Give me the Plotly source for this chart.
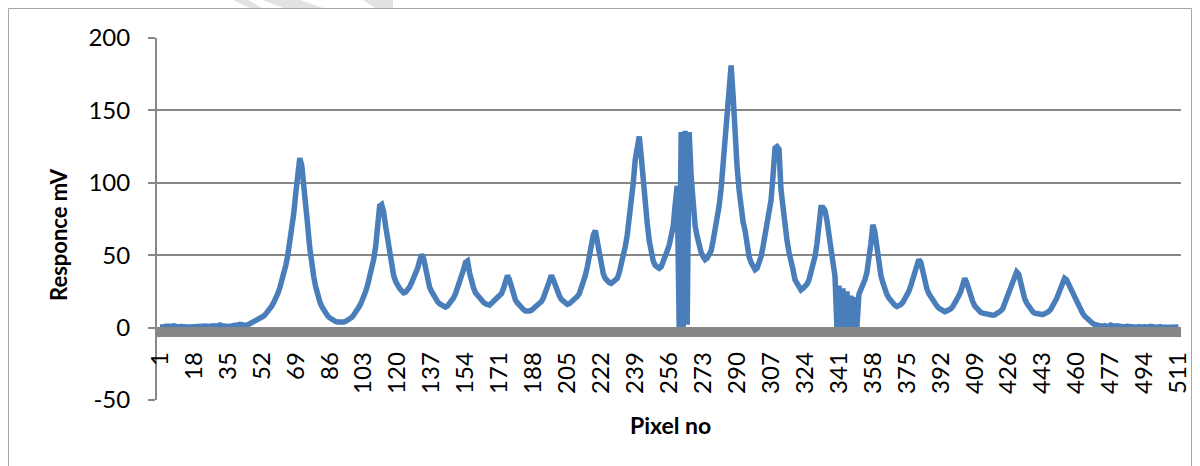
import plotly.graph_objects as go

# ---- data ----
pixel_no = list(range(1, 512))

response = (
    [0.5, 0.3, 0.6, 1.0, 0.8, 0.4, 0.9, 1.2, 0.7, 0.5, 0.8, 1.1, 0.6, 0.4, 0.7, 0.9, 0.5]          # 1-17
    + [0.6, 0.8, 1.0, 0.7, 0.9, 1.3, 1.1, 0.8, 1.2, 1.6, 1.3, 0.9, 1.5, 1.8, 1.2, 0.7, 1.0]        # 18-34
    + [0.8, 0.6, 1.1, 1.5, 1.2, 1.8, 2.2, 1.6, 1.0, 1.4, 2.0, 2.8, 3.2, 3.8, 4.6, 5.2, 6.0]        # 35-51
    + [6.8, 8.0, 9.5, 11.0, 13.0, 15.0, 17.5, 20.0, 23.5, 27.5, 32.0, 37.5, 43.0, 50.0, 58.0, 67.0, 79.0]  # 52-68
    + [93, 108, 117, 112, 100, 86, 70, 55, 43, 35, 28, 22, 18, 14.5, 12, 9.8, 8.0]               # 69-85
    + [6.8, 5.6, 4.8, 4.2, 3.8, 3.5, 3.6, 3.8, 4.3, 5.0, 5.8, 7.0, 8.7, 10.5, 12.5, 15.0, 18.0]   # 86-102
    + [21, 25, 29.5, 34.5, 40.5, 47, 56, 70, 84, 85, 80, 70, 62, 50, 42, 36, 32]                  # 103-119
    + [28.5, 27, 25.5, 24, 24.5, 26, 28, 31, 34, 37.5, 41, 46, 50.5, 48, 40, 33, 28]              # 120-136
    + [25, 22, 19.5, 18, 16.5, 15.5, 14.8, 14.2, 15, 16.5, 18, 20.5, 23.5, 27, 31, 35.5, 40]      # 137-153
    + [45, 46, 38, 31, 27.5, 24, 22, 20, 18.5, 17.5, 16.5, 16, 15.5, 16.8, 18, 19.5, 20]          # 154-170
    + [21.5, 23.5, 27, 31.5, 36, 33, 27, 22, 19, 17, 15, 13.5, 12.5, 11.5, 11, 11.5, 12]          # 171-187
    + [13, 14, 15, 16, 18, 20.5, 24, 28.5, 33, 36, 33, 28.5, 25, 22, 19.5, 18, 17]                # 188-204
    + [16, 16.5, 17.5, 18.5, 20, 21.5, 23.5, 27, 31, 36, 42, 50, 58, 64, 67, 60, 50]              # 205-221
    + [42, 37, 34, 32, 31, 30.5, 32, 33, 34, 38, 43, 49, 56, 64, 74, 86, 100]                     # 222-238
    + [116, 128, 132, 118, 100, 86, 72, 60, 51, 46, 43, 41.5, 41, 42, 45, 49, 53]                 # 239-255
    + [57, 63, 70, 85, 98, 0, 135, 0, 136, 2, 135, 104, 84, 70, 63, 56, 52]                       # 256-272
    + [49, 47, 48, 50, 53, 60, 67, 75, 84, 96, 112, 132, 152, 168, 181, 160, 130]                 # 273-289
    + [111, 95, 81, 73, 67, 57, 49, 45, 42, 40, 41, 45, 49, 56, 63, 71, 79]                       # 290-306
    + [88, 105, 124, 125, 123, 95, 80, 67, 60, 52, 47, 40, 33, 30, 28, 26, 27]                    # 307-323
    + [28, 30, 33, 38, 43, 49, 58, 70, 83, 83, 81, 74, 66, 55, 45, 36, 0]                         # 324-340
    + [29, 0, 27, 0, 25, 0, 22, 0, 21, 0, 23, 26, 29, 33, 38, 46, 58]                             # 341-357
    + [71, 66, 56, 42, 36, 31, 26, 23, 20.5, 18.5, 16.5, 15.5, 14.5, 15, 16, 17.5, 19.5]          # 358-374
    + [22, 25, 29, 33, 37, 42, 47, 45, 38, 32, 27, 23.5, 21, 18.5, 16.5, 15, 13.5]                # 375-391
    + [12.5, 11.5, 11, 11.5, 12, 13, 14.5, 16.5, 19, 22, 25, 30, 34, 31, 26, 22, 18]              # 392-408
    + [15, 13, 12, 10.5, 10, 9.5, 9, 8.7, 8.5, 8.5, 8.8, 9.5, 10.5, 11.5, 13, 17, 21]             # 409-425
    + [25, 29, 33, 37, 38.5, 37, 30, 24, 20, 17, 14.5, 12.5, 11, 10, 9.5, 9, 8.7]                 # 426-442
    + [9, 9.5, 10, 11, 12.5, 14.5, 17, 20, 23.5, 27, 31, 34, 33, 30, 28, 24, 20]                  # 443-459
    + [17, 14.5, 12, 10, 8, 6.5, 5, 4, 3, 2.2, 1.6, 1.0, 1.2, 0.8, 1.4, 0.9, 0.6]                 # 460-476
    + [1.8, 1.2, 0.9, 1.3, 1.0, 0.7, 0.8, 0.5, 0.9, 0.6, 0.4, 0.7, 0.5, 0.3, 0.6, 0.2, 0.4]       # 477-493
    + [0.6, 0.1, 0.3, 0.8, 0.2, 0.4, 0.1, 0.5, 0.7, 0.2, 0.4, 0.1, 0.6, 0.3, 0.2, 0.5, 0.7]       # 494-510
    + [0.4]                                                                                        # 511
)

x_tick_values = list(range(1, 512, 17))
x_tick_labels = [str(v) for v in x_tick_values]
y_tick_values = [-50, 0, 50, 100, 150, 200]
y_tick_labels = ["-50", "0", "50", "100", "150", "200"]

x_title = "Pixel no"
y_title = "Responce mV"

# ---- figure ----
W, H = 1200, 466
GRAY = "#878787"
FONT = "Lato"

fig = go.Figure()
fig.add_trace(go.Scatter(
    x=pixel_no, y=response, mode="lines",
    line=dict(color="#4A7EBB", width=5.5),
    hoverinfo="x+y", showlegend=False,
))

y_dom = [(H - 400) / H, (H - 38) / H]
y_min, y_max = -50, 200
zero_pos = y_dom[0] + (0 - y_min) / (y_max - y_min) * (y_dom[1] - y_dom[0])

fig.update_layout(
    width=W, height=H,
    margin=dict(l=0, r=0, t=0, b=0, autoexpand=False),
    paper_bgcolor="white", plot_bgcolor="white",
    showlegend=False,
    xaxis=dict(
        domain=[157 / W, 1181 / W],
        range=[-0.5, 512.3],
        anchor="free", position=zero_pos,
        automargin=False,
        tickmode="array", tickvals=x_tick_values, ticktext=x_tick_labels,
        tickangle=-90,
        ticks="outside", ticklen=8, tickwidth=2, tickcolor=GRAY,
        minor=dict(ticks="outside", dtick=1, tick0=0, ticklen=8, tickwidth=2,
                   tickcolor=GRAY, showgrid=False),
        showline=True, linecolor=GRAY, linewidth=2,
        showgrid=False, zeroline=False,
        tickfont=dict(family=FONT, size=24, color="black"),
        ticklabelstandoff=6,
    ),
    yaxis=dict(
        domain=y_dom,
        range=[y_min, y_max],
        automargin=False,
        tickmode="array", tickvals=y_tick_values, ticktext=y_tick_labels,
        ticks="outside", ticklen=7, tickwidth=2, tickcolor=GRAY,
        showline=True, linecolor=GRAY, linewidth=2,
        showgrid=True, gridcolor=GRAY, gridwidth=2,
        zeroline=False,
        tickfont=dict(family=FONT, size=24, color="black"),
        ticklabelstandoff=13,
    ),
    annotations=[
        dict(text=f"<b>{y_title}</b>", x=58 / W, y=(H - 235) / H,
             xref="paper", yref="paper", textangle=-90, showarrow=False,
             font=dict(family=FONT, size=22, color="black"),
             xanchor="center", yanchor="middle"),
        dict(text=f"<b>{x_title}</b>", x=670 / W, y=(H - 425) / H,
             xref="paper", yref="paper", showarrow=False,
             font=dict(family=FONT, size=23, color="black"),
             xanchor="center", yanchor="middle"),
    ],
    shapes=[
        dict(type="rect", xref="paper", yref="paper",
             x0=8.5 / W, x1=1191.5 / W, y0=-0.05, y1=(H - 8.5) / H,
             line=dict(color="#A6A6A6", width=1), fillcolor="rgba(0,0,0,0)",
             layer="below"),
        # faint watermark fragments at the top edge
        dict(type="path", xref="paper", yref="paper",
             path=f"M {233/W},1 L {248/W},1 L {262/W},{(H-8)/H} L {250/W},{(H-8)/H} Z",
             fillcolor="#E2E2E2", line=dict(width=0), layer="below"),
        dict(type="path", xref="paper", yref="paper",
             path=f"M {263/W},1 L {300/W},1 L {323/W},{(H-8)/H} L {283/W},{(H-8)/H} Z",
             fillcolor="#E2E2E2", line=dict(width=0), layer="below"),
        dict(type="path", xref="paper", yref="paper",
             path=f"M {363/W},1 L {393/W},1 L {393/W},{(H-8)/H} L {375/W},{(H-8)/H} Z",
             fillcolor="#E2E2E2", line=dict(width=0), layer="below"),
    ],
)

fig.write_html("out.html")
